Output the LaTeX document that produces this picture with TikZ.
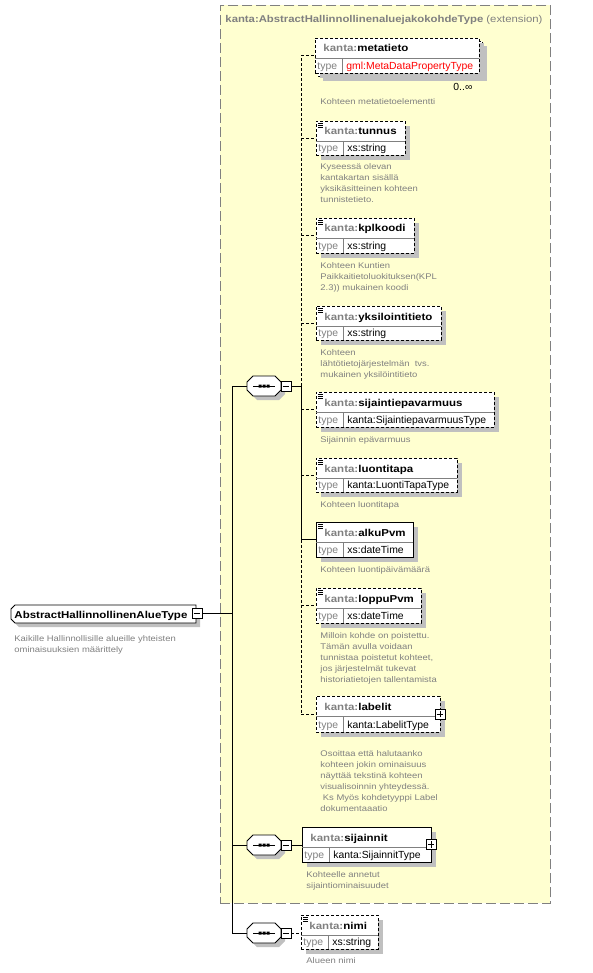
\documentclass[tikz,border=0pt]{standalone}
\usepackage{fontspec}
\setmainfont{Liberation Sans}
\newfontfamily\wideF{Liberation Sans}[FakeStretch=1.15]
\newfontfamily\typeF{Liberation Sans}[FakeStretch=1.01]
\definecolor{bgyellow}{RGB}{255,255,208}
\definecolor{txtgray}{RGB}{128,128,128}
\definecolor{shadowc}{RGB}{192,192,192}
\definecolor{bordergray}{RGB}{128,128,128}
\tikzset{
  every path/.style={line width=0.9pt},
  cdash/.style={dash pattern=on 3pt off 2pt},
  divline/.style={draw=txtgray,solid,line width=0.8pt},
  namefont/.style={font=\wideF\bfseries\fontsize{10}{12}\selectfont},
  typefont/.style={font=\typeF\fontsize{10.3}{12}\selectfont},
  descfont/.style={font=\wideF\fontsize{8.2}{11}\selectfont,text=txtgray,align=left,inner sep=0pt,anchor=north west},
  boxnode/.style={draw,fill=white,minimum size=10pt,inner sep=0pt,solid},
}
\newcommand\elembox[8]{%
  \fill[shadowc] (#2+5,#3+5) rectangle (#4+5,#5+5);
  \node[draw,#6,fill=white,inner sep=0pt,outer sep=0pt,anchor=north west,
        minimum width={(#4-#2)*1pt},minimum height={(#5-#3)*1pt}] (#1) at (#2,#3) {};
  \draw[divline] (#2,#3+20) -- (#4,#3+20);
  \draw[divline] (#2+27,#3+20) -- (#2+27,#5);
  \node[namefont,anchor=base west,inner sep=0pt] (#1-name) at (#2+8,#3+14) {\textcolor{txtgray}{kanta:}#7};
  \node[typefont,anchor=base west,inner sep=0pt,text=txtgray] (#1-tl) at (#2+2,#5-3.5) {type};
  \node[typefont,anchor=base west,inner sep=0pt] (#1-type) at (#2+31,#5-3.5) {#8};
}
\newcommand\elicon[1]{\draw[line width=0.7pt,shift={(#1.north west)}] (2,2.5)--(7,2.5) (2,4.2)--(7,4.2) (2,5.9)--(7,5.9);}
\newcommand\pluson[2]{%
  \node[boxnode] (#2) at (#1.east) {};
  \draw ([xshift=2pt]#2.west) -- ([xshift=-2pt]#2.east) ([yshift=2pt]#2.south) -- ([yshift=-2pt]#2.north);}
\newcommand\seqsym[3]{%
  \node[inner sep=0pt,minimum width=34pt,minimum height=20pt] (#1) at (#2+17,#3) {};
  \begin{scope}[shift={(#2,#3)}]
    \fill[shadowc] (10,-6) -- (32,-6) -- (38,0) -- (38,8) -- (32,14) -- (10,14) -- (4,8) -- (4,0) -- cycle;
    \draw[fill=white] (6,-10) -- (28,-10) -- (34,-4) -- (34,4) -- (28,10) -- (6,10) -- (0,4) -- (0,-4) -- cycle;
    \draw (6,0) -- (28,0);
    \fill (11.5,-1.5) rectangle (14.5,1.5) (15.5,-1.5) rectangle (18.5,1.5) (19.5,-1.5) rectangle (22.5,1.5);
  \end{scope}
  \node[boxnode] (#1m) at (#2+39,#3) {};
  \draw ([xshift=2pt]#1m.west) -- ([xshift=-2pt]#1m.east);}
\begin{document}
\begin{tikzpicture}[x=1pt,y=-1pt]
\useasboundingbox (0,0) rectangle (593,973);
\fill[white] (0,0) rectangle (593,973);
% extension box
\node[draw=bordergray,dash pattern=on 10pt off 4pt,fill=bgyellow,inner sep=0pt,anchor=north west,
      minimum width=330pt,minimum height=898pt] (ext) at (220,5) {};
\node[anchor=base west,inner sep=0pt,text=txtgray,font=\wideF\fontsize{9.85}{12}\selectfont] (title) at (225,23)
  {\bfseries kanta:AbstractHallinnollinenaluejakokohdeType\mdseries\ (extension)};

% root
\node[inner sep=0pt,minimum width=186pt,minimum height=18pt,anchor=north west] (root) at (11,605) {};
\fill[shadowc] (19,609) -- (200,609) -- (200,627) -- (19,627) -- (15,623) -- (15,613) -- cycle;
\draw[fill=white] (15,605) -- (196,605) -- (196,623) -- (15,623) -- (11,619) -- (11,609) -- cycle;
\node[namefont,anchor=base west,inner sep=0pt] (rootname) at (14,618.5) {AbstractHallinnollinenAlueType};
\node[boxnode] (rootm) at (197,613.5) {};
\draw ([xshift=2pt]rootm.west) -- ([xshift=-2pt]rootm.east);
\node[descfont] (rootdesc) at (14,635) {Kaikille Hallinnollisille alueille yhteisten\\ominaisuuksien määrittely};

% sequences
\seqsym{seq1}{247}{386}
\seqsym{seq2}{247}{845}
\seqsym{seq3}{247}{933}

% metatieto (multiple)
\fill[shadowc] (323,46) rectangle (487,81);
\draw[cdash,fill=white] (318,41) rectangle (482,76);
\elembox{metatieto}{315}{38}{479}{73}{cdash}{metatieto}{\textcolor{red}{gml:MetaDataPropertyType}}
\node[typefont,anchor=base west,inner sep=0pt] (occ) at (453,91) {0..∞};
\node[descfont] (d-metatieto) at (320,98) {Kohteen metatietoelementti};

\elembox{tunnus}{316}{121}{405}{155}{cdash}{tunnus}{xs:string}
\elicon{tunnus}
\node[descfont] (d-tunnus) at (320,163) {Kyseessä olevan\\kantakartan sisällä\\yksikäsitteinen kohteen\\tunnistetieto.};

\elembox{kplkoodi}{316}{218}{414}{253}{cdash}{kplkoodi}{xs:string}
\elicon{kplkoodi}
\node[descfont] (d-kplkoodi) at (320,262) {Kohteen Kuntien\\Paikkaitietoluokituksen(KPL\\2.3)) mukainen koodi};

\elembox{yksilointitieto}{316}{306}{441}{340}{cdash}{yksilointitieto}{xs:string}
\elicon{yksilointitieto}
\node[descfont] (d-yksilointitieto) at (320,349) {Kohteen\\lähtötietojärjestelmän\ \ tvs.\\mukainen yksilöintitieto};

\elembox{sijaintiepavarmuus}{316}{392}{494}{427}{cdash}{sijaintiepavarmuus}{kanta:SijaintiepavarmuusType}
\elicon{sijaintiepavarmuus}
\node[descfont] (d-sijaintiepavarmuus) at (320,436) {Sijainnin epävarmuus};

\elembox{luontitapa}{316}{458}{457}{492}{cdash}{luontitapa}{kanta:LuontiTapaType}
\elicon{luontitapa}
\node[descfont] (d-luontitapa) at (320,501) {Kohteen luontitapa};

\elembox{alkuPvm}{316}{522}{413}{557}{solid}{alkuPvm}{xs:dateTime}
\elicon{alkuPvm}
\node[descfont] (d-alkuPvm) at (320,566) {Kohteen luontipäivämäärä};

\elembox{loppuPvm}{316}{588}{421}{623}{cdash}{loppuPvm}{xs:dateTime}
\elicon{loppuPvm}
\node[descfont] (d-loppuPvm) at (320,632) {Milloin kohde on poistettu.\\Tämän avulla voidaan\\tunnistaa poistetut kohteet,\\jos järjestelmät tukevat\\historiatietojen tallentamista};

\elembox{labelit}{316}{696}{440}{732}{cdash}{labelit}{kanta:LabelitType}
\pluson{labelit}{labelitp}
\node[descfont] (d-labelit) at (320,750) {Osoittaa että halutaanko\\kohteen jokin ominaisuus\\näyttää tekstinä kohteen\\visualisoinnin yhteydessä.\\\hspace*{2.5pt}Ks Myös kohdetyyppi Label\\dokumentaaatio};

\elembox{sijainnit}{302}{827}{431}{862}{solid}{sijainnit}{kanta:SijainnitType}
\pluson{sijainnit}{sijainnitp}
\node[descfont] (d-sijainnit) at (306,871) {Kohteelle annetut\\sijaintiominaisuudet};

\elembox{nimi}{301}{915}{378}{949}{cdash}{nimi}{xs:string}
\elicon{nimi}
\node[descfont] (d-nimi) at (306,957) {Alueen nimi};

% connectors
\coordinate (bus0) at (232,613.5);
\coordinate (bus1) at (301,386);
\draw (rootm.east) -- (bus0);
\draw (bus0 |- seq1.west) -- (bus0 |- seq3.west);
\foreach \s in {seq1,seq2,seq3} \draw (bus0 |- \s.west) -- (\s.west);
\draw (seq1m.east) -- (bus1);
\draw[cdash] (bus1) -- (bus1 |- metatieto.west);
\draw (bus1) -- (bus1 |- alkuPvm.west);
\draw[cdash] (bus1 |- alkuPvm.west) -- (bus1 |- labelit.west);
\foreach \n in {metatieto,tunnus,kplkoodi,yksilointitieto,sijaintiepavarmuus,luontitapa,loppuPvm,labelit}
  \draw[cdash] (bus1 |- \n.west) -- (\n.west);
\draw (bus1 |- alkuPvm.west) -- (alkuPvm.west);
\draw (seq2m.east) -- (seq2m.east -| sijainnit.west);
\draw[cdash] (seq3m.east) -- (seq3m.east -| nimi.west);
\end{tikzpicture}
\end{document}
